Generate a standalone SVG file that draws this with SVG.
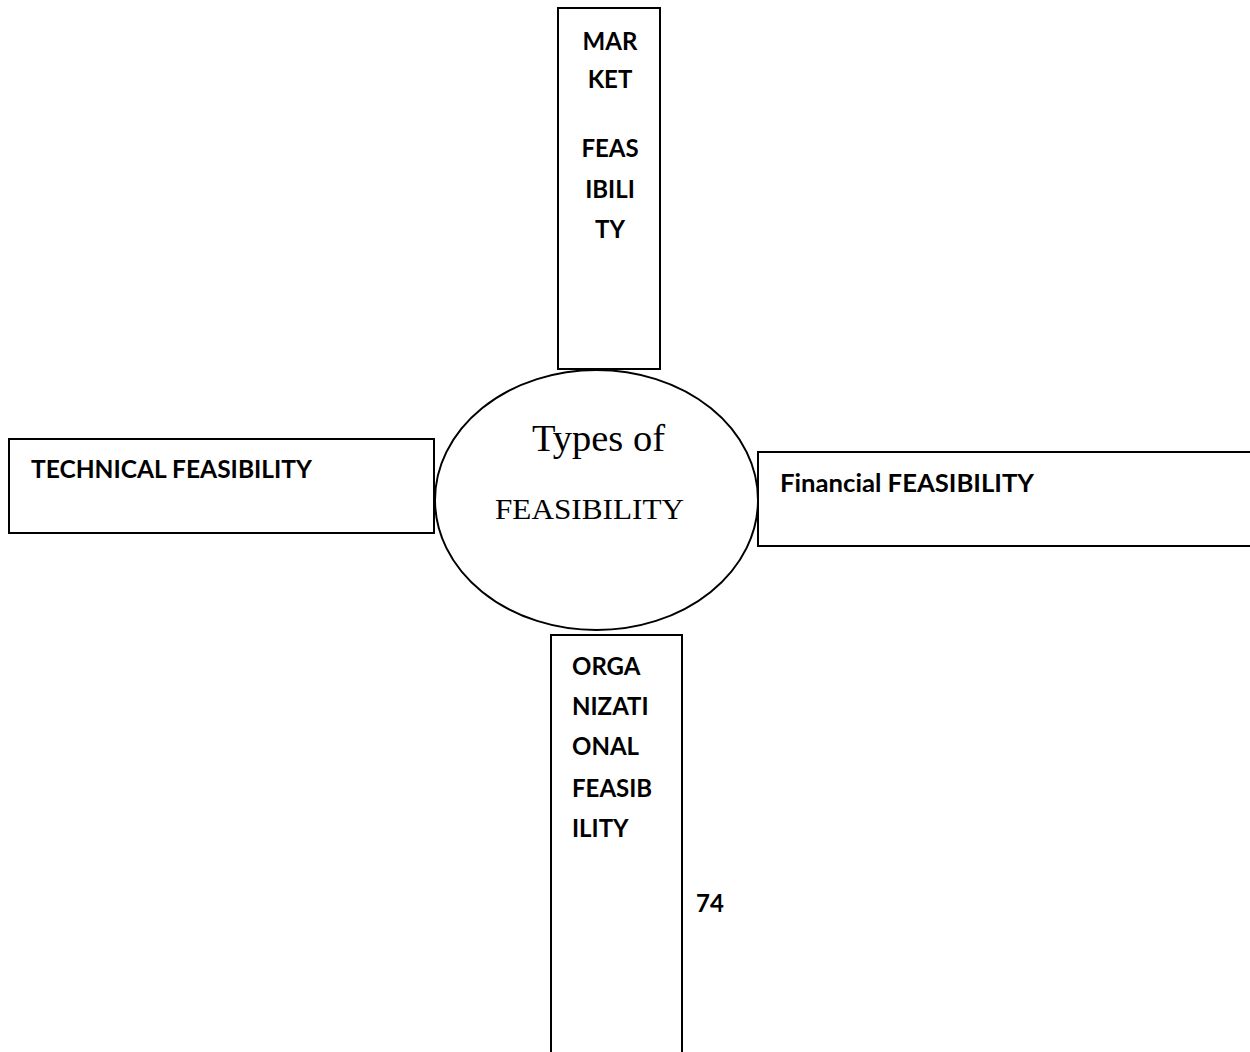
<svg xmlns="http://www.w3.org/2000/svg" width="1250" height="1052" viewBox="0 0 1250 1052">
<style>
.box{fill:#fff;stroke:#000;stroke-width:2}
.lbl{font-family:Lato,"Open Sans","Liberation Sans",sans-serif;font-weight:bold;font-size:24px;fill:#000}
.mid{text-anchor:middle}
.serif{font-family:"Liberation Serif","Times New Roman",serif;fill:#000}
</style>
<rect width="1250" height="1052" fill="#fff"/>
<g id="connectors"></g>
<g id="market">
<rect class="box" x="558" y="8" width="102" height="361"/>
<text class="lbl mid" x="610" y="50">MAR</text>
<text class="lbl mid" x="610" y="88">KET</text>
<text class="lbl mid" x="610" y="157">FEAS</text>
<text class="lbl mid" x="610" y="198">IBILI</text>
<text class="lbl mid" x="610" y="238">TY</text>
</g>
<g id="technical">
<rect class="box" x="9" y="439" width="425" height="94"/>
<text class="lbl" x="31" y="478" textLength="281" lengthAdjust="spacingAndGlyphs">TECHNICAL FEASIBILITY</text>
</g>
<g id="financial">
<rect class="box" x="758" y="452" width="500" height="94"/>
<text class="lbl" x="780" y="492" textLength="254" lengthAdjust="spacingAndGlyphs">Financial FEASIBILITY</text>
</g>
<g id="organizational">
<rect class="box" x="551" y="635" width="131" height="430"/>
<text class="lbl" x="572" y="675">ORGA</text>
<text class="lbl" x="572" y="715">NIZATI</text>
<text class="lbl" x="572" y="755">ONAL</text>
<text class="lbl" x="572" y="797">FEASIB</text>
<text class="lbl" x="572" y="837">ILITY</text>
</g>
<g id="center">
<ellipse class="box" cx="596.5" cy="500" rx="161.5" ry="130"/>
<text class="serif" x="532" y="451" font-size="37" textLength="133" lengthAdjust="spacingAndGlyphs">Types of</text>
<text class="serif" x="495" y="519" font-size="29" textLength="189" lengthAdjust="spacingAndGlyphs">FEASIBILITY</text>
</g>
<g id="page-number">
<text class="lbl" x="696" y="912">74</text>
</g>
</svg>
